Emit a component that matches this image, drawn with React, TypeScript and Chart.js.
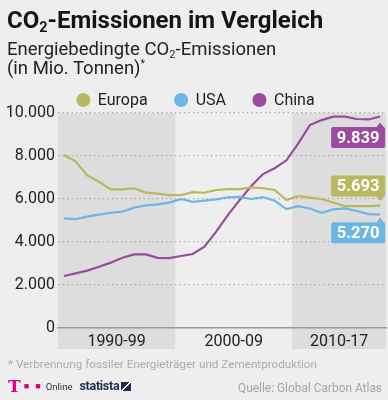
import React, { useEffect, useRef } from "react";
import { Chart, registerables } from "chart.js";

Chart.register(...registerables);

// ---------- data ----------
const years = [
  "1990", "1991", "1992", "1993", "1994", "1995", "1996", "1997", "1998", "1999",
  "2000", "2001", "2002", "2003", "2004", "2005", "2006", "2007", "2008", "2009",
  "2010", "2011", "2012", "2013", "2014", "2015", "2016", "2017",
];
const europe = [
  8050, 7750, 7100, 6800, 6450, 6450, 6500, 6300, 6250, 6180,
  6180, 6320, 6290, 6420, 6460, 6460, 6540, 6500, 6420, 5950,
  6130, 6060, 6000, 5840, 5670, 5670, 5670, 5693,
];
const usa = [
  5100, 5060, 5180, 5270, 5360, 5410, 5600, 5700, 5750, 5830,
  6000, 5870, 5920, 5980, 6080, 6100, 6000, 6090, 5920, 5530,
  5670, 5560, 5360, 5520, 5560, 5440, 5300, 5270,
];
const china = [
  2420, 2540, 2670, 2850, 3040, 3270, 3420, 3420, 3260, 3250,
  3350, 3440, 3780, 4480, 5250, 5950, 6600, 7160, 7430, 7800,
  8580, 9440, 9670, 9830, 9830, 9720, 9700, 9839,
];
const seriesNames = ["Europa", "USA", "China"];
const seriesValues = [europe, usa, china];
const yTickValues = [0, 2000, 4000, 6000, 8000, 10000];
const periodLabels = ["1990-99", "2000-09", "2010-17"];
const periodStart = ["1990", "2000", "2010"];
const periodEnd = ["1999", "2009", "2017"];
const periodShaded = [true, false, true];

// ---------- styles ----------
const seriesColors = ["#b8b85e", "#6db5e4", "#9a4b9d"];
const labelAbove = [true, false, false];
const labelGap = [9, 7.5, 10.5];
const FONT = "Roboto, sans-serif";
const BG = "#eeeeee";
const BAND = "#dddddd";

Chart.defaults.font.family = FONT;

function fmt(v: number): string {
  return String(Math.round(v)).replace(/\B(?=(\d{3})+(?!\d))/g, ".");
}

const decorPlugin = {
  id: "decor",
  beforeDraw(chart: any) {
    const { ctx, chartArea } = chart;
    const x = chart.scales.x;
    const step = x.getPixelForValue(1) - x.getPixelForValue(0);
    ctx.save();
    periodLabels.forEach((_, i) => {
      if (!periodShaded[i]) return;
      const a = x.getPixelForValue(years.indexOf(periodStart[i])) - step / 2;
      const b = x.getPixelForValue(years.indexOf(periodEnd[i])) + step / 2;
      ctx.fillStyle = BAND;
      ctx.fillRect(a, chartArea.top, b - a, 349 - chartArea.top);
    });
    ctx.restore();
  },
  afterDraw(chart: any) {
    const { ctx } = chart;
    const x = chart.scales.x;
    const y = chart.scales.y;
    const step = x.getPixelForValue(1) - x.getPixelForValue(0);
    ctx.save();
    // period labels
    ctx.font = `16px ${FONT}`;
    ctx.fillStyle = "#222222";
    ctx.textAlign = "center";
    ctx.textBaseline = "alphabetic";
    periodLabels.forEach((lab, i) => {
      const a = x.getPixelForValue(years.indexOf(periodStart[i])) - step / 2;
      const b = x.getPixelForValue(years.indexOf(periodEnd[i])) + step / 2;
      ctx.fillText(lab, (a + b) / 2, 345.5);
    });
    // legend
    ctx.font = `16px ${FONT}`;
    ctx.textAlign = "left";
    ctx.textBaseline = "middle";
    let cx = 83.3;
    seriesNames.forEach((name, i) => {
      ctx.fillStyle = seriesColors[i];
      ctx.beginPath();
      ctx.arc(cx, 100, 7, 0, Math.PI * 2);
      ctx.fill();
      ctx.fillStyle = "#222222";
      ctx.fillText(name, cx + 14.5, 100.5);
      cx += 14.5 + ctx.measureText(name).width + 33.5;
    });
    // value boxes
    const n = years.length - 1;
    seriesValues.forEach((vals, i) => {
      const v = vals[n];
      const px = x.getPixelForValue(n);
      const py = y.getPixelForValue(v);
      const w = 54;
      const h = 21;
      const right = px + 5;
      const left = right - w;
      const top = labelAbove[i] ? py - labelGap[i] - h : py + labelGap[i];
      ctx.fillStyle = seriesColors[i];
      ctx.beginPath();
      const r = 2;
      ctx.moveTo(left + r, top);
      ctx.lineTo(right - r, top);
      ctx.quadraticCurveTo(right, top, right, top + r);
      ctx.lineTo(right, top + h - r);
      ctx.quadraticCurveTo(right, top + h, right - r, top + h);
      ctx.lineTo(left + r, top + h);
      ctx.quadraticCurveTo(left, top + h, left, top + h - r);
      ctx.lineTo(left, top + r);
      ctx.quadraticCurveTo(left, top, left + r, top);
      ctx.closePath();
      ctx.fill();
      ctx.beginPath();
      if (labelAbove[i]) {
        ctx.moveTo(px - 4, top + h - 0.5);
        ctx.lineTo(px + 4, top + h - 0.5);
        ctx.lineTo(px, top + h + 4.5);
      } else {
        ctx.moveTo(px - 4, top + 0.5);
        ctx.lineTo(px + 4, top + 0.5);
        ctx.lineTo(px, top - 4.5);
      }
      ctx.closePath();
      ctx.fill();
      ctx.fillStyle = "#ffffff";
      ctx.font = `bold 16.5px ${FONT}`;
      ctx.textAlign = "center";
      ctx.textBaseline = "middle";
      ctx.fillText(fmt(v), (left + right) / 2, top + h / 2 + 1);
    });
    ctx.restore();
  },
};

const subStyle: React.CSSProperties = {
  fontSize: "0.6em",
  position: "relative",
  top: "0.3em",
  lineHeight: 0,
};
const supStyle: React.CSSProperties = {
  fontSize: "0.55em",
  position: "relative",
  top: "-0.6em",
  lineHeight: 0,
};

export default function App() {
  const ref = useRef<HTMLCanvasElement | null>(null);

  useEffect(() => {
    if (!ref.current) return;
    const chart = new Chart(ref.current, {
      type: "line",
      data: {
        labels: years,
        datasets: seriesValues.map((vals, i) => ({
          label: seriesNames[i],
          data: vals,
          borderColor: seriesColors[i],
          backgroundColor: seriesColors[i],
          borderWidth: 2.2,
          pointRadius: 0,
          tension: 0,
          fill: false,
        })),
      },
      options: {
        animation: false,
        responsive: false,
        devicePixelRatio: 1,
        layout: { padding: { top: 113, left: 0, right: 2, bottom: 0 } },
        plugins: {
          legend: { display: false },
          tooltip: { enabled: false },
          title: { display: false },
        },
        scales: {
          x: {
            type: "category",
            offset: true,
            ticks: { display: false },
            grid: { display: false, drawTicks: false },
            border: { display: true, color: "#999999", width: 1.5 },
            afterFit(scale: any) {
              scale.height = 72;
            },
          },
          y: {
            min: 0,
            max: 10000,
            afterBuildTicks(scale: any) {
              scale.ticks = yTickValues.map((v) => ({ value: v }));
            },
            ticks: {
              padding: 3,
              color: "#222222",
              font: { family: FONT, size: 16 },
              callback: (v: any) => fmt(Number(v)),
            },
            grid: {
              drawTicks: false,
              lineWidth: 1.3,
              color: (c: any) => (c.tick && c.tick.value === 0 ? "rgba(0,0,0,0)" : "#a8a8a8"),
            },
            border: { display: false, dash: [1.3, 3.2] },
            afterFit(scale: any) {
              scale.width = 58;
            },
          },
        },
      },
      plugins: [decorPlugin],
    } as any);
    return () => chart.destroy();
  }, []);

  return (
    <div
      style={{
        position: "fixed",
        left: 0,
        top: 0,
        width: 388,
        height: 400,
        background: BG,
        overflow: "hidden",
        fontFamily: FONT,
      }}
    >
      <canvas ref={ref} width={388} height={400} style={{ position: "absolute", left: 0, top: 0 }} />
      <div
        style={{
          position: "absolute",
          left: 7,
          top: 8,
          fontSize: 24,
          lineHeight: "24px",
          fontWeight: 700,
          color: "#151515",
          whiteSpace: "nowrap",
        }}
      >
        CO<span style={subStyle}>2</span>-Emissionen im Vergleich
      </div>
      <div
        style={{
          position: "absolute",
          left: 7,
          top: 39.5,
          fontSize: 18.5,
          lineHeight: "19px",
          color: "#222222",
          whiteSpace: "nowrap",
        }}
      >
        <div>
          Energiebedingte CO<span style={subStyle}>2</span>-Emissionen
        </div>
        <div>
          (in Mio. Tonnen)<span style={supStyle}>*</span>
        </div>
      </div>
      <div
        style={{
          position: "absolute",
          left: 8,
          top: 358,
          fontSize: 11.7,
          lineHeight: "12px",
          color: "#ababab",
          whiteSpace: "nowrap",
        }}
      >
        * Verbrennung fossiler Energieträger und Zementproduktion
      </div>
      <div
        style={{
          position: "absolute",
          right: 6,
          top: 382,
          fontSize: 11.9,
          lineHeight: "13px",
          color: "#a5a5a5",
          whiteSpace: "nowrap",
        }}
      >
        Quelle: Global Carbon Atlas
      </div>
      <div
        style={{
          position: "absolute",
          left: 8,
          top: 378,
          height: 16,
          display: "flex",
          alignItems: "center",
          whiteSpace: "nowrap",
        }}
      >
        <span style={{ color: "#e20074", fontWeight: 900, fontSize: 17, fontFamily: "'DejaVu Serif', serif", lineHeight: "16px" }}>T</span>
        <span style={{ color: "#e20074", fontSize: 9, marginLeft: 3, letterSpacing: 2, lineHeight: "16px" }}>■ ■</span>
        <span style={{ color: "#333333", fontSize: 9.5, marginLeft: 3, lineHeight: "16px", position: "relative", top: 1 }}>Online</span>
        <span style={{ color: "#1c2b4a", fontSize: 12.5, fontWeight: 700, marginLeft: 7, lineHeight: "16px", letterSpacing: -0.3 }}>statista</span>
        <span
          style={{
            display: "inline-block",
            width: 10,
            height: 9,
            marginLeft: 2,
            background: "linear-gradient(135deg, #1c2b4a 45%, #ffffff 45%, #ffffff 55%, #1c2b4a 55%)",
          }}
        />
      </div>
    </div>
  );
}
